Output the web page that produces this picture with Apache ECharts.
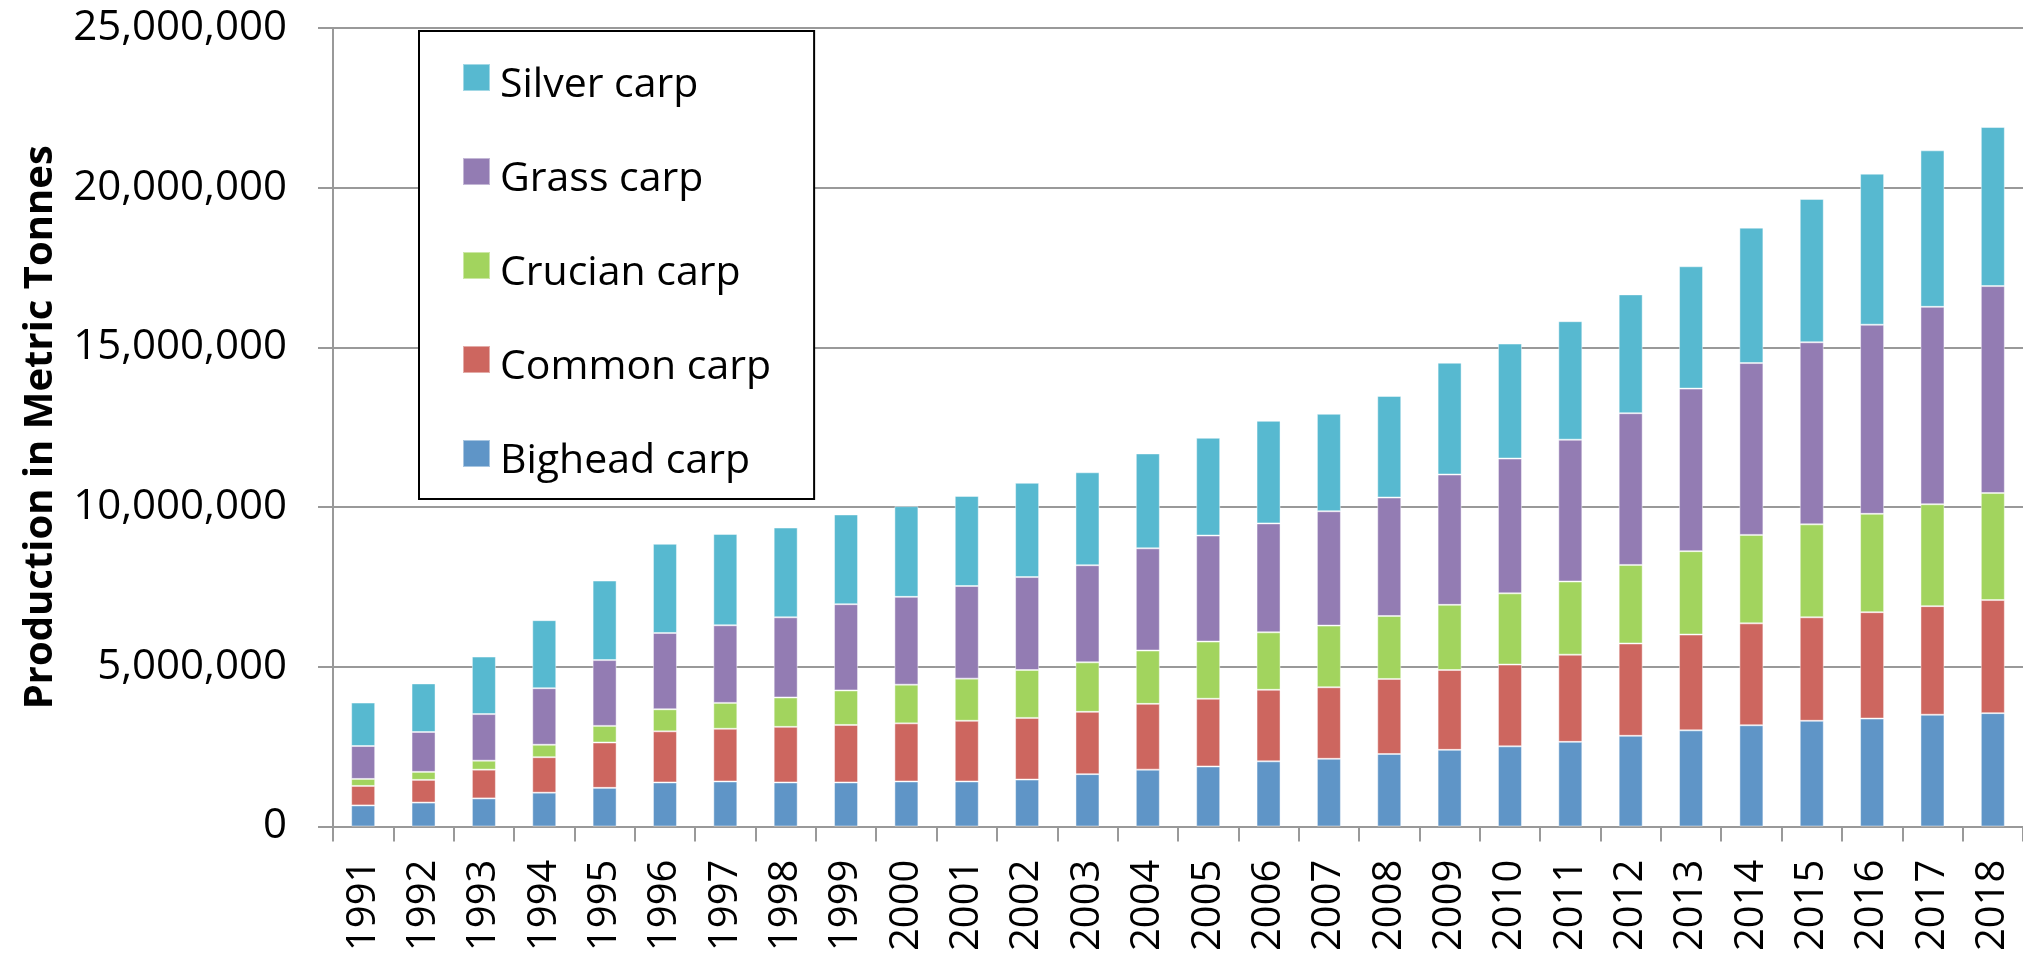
<!doctype html>
<html lang="en">
    <head>
        <meta charset="UTF-8">
        <title>Carp production</title>
        <style>
            html, body { margin: 0; padding: 0; background: #fff; }
        </style>
        <script src="https://cdn.jsdelivr.net/npm/echarts@6/dist/echarts.min.js"></script>
    </head>
    <body>
        <div id="main" style="width: 2023px;height:954px;"></div>
        <script type="text/javascript">
            // years on the x axis
            var years = ['1991','1992','1993','1994','1995','1996','1997','1998','1999','2000',
                         '2001','2002','2003','2004','2005','2006','2007','2008','2009','2010',
                         '2011','2012','2013','2014','2015','2016','2017','2018'];

            // production per species, metric tonnes
            var bighead = [660000, 750000, 880000, 1060000, 1210000, 1380000, 1410000, 1380000, 1380000, 1410000,
                           1410000, 1470000, 1640000, 1780000, 1880000, 2040000, 2120000, 2270000, 2400000, 2510000,
                           2650000, 2840000, 3010000, 3170000, 3310000, 3380000, 3500000, 3550000];
            var common  = [610000, 710000, 900000, 1110000, 1420000, 1600000, 1650000, 1740000, 1800000, 1820000,
                           1900000, 1930000, 1950000, 2060000, 2120000, 2240000, 2240000, 2350000, 2500000, 2560000,
                           2730000, 2890000, 3000000, 3190000, 3240000, 3330000, 3400000, 3540000];
            var crucian = [220000, 250000, 280000, 390000, 520000, 690000, 810000, 920000, 1080000, 1210000,
                           1320000, 1500000, 1550000, 1670000, 1790000, 1800000, 1930000, 1970000, 2040000, 2230000,
                           2290000, 2460000, 2610000, 2770000, 2910000, 3080000, 3190000, 3350000];
            var grass   = [1030000, 1250000, 1460000, 1770000, 2060000, 2390000, 2430000, 2510000, 2700000, 2750000,
                           2900000, 2910000, 3040000, 3200000, 3320000, 3410000, 3580000, 3710000, 4080000, 4220000,
                           4440000, 4750000, 5090000, 5380000, 5700000, 5920000, 6180000, 6480000];
            var silver  = [1360000, 1520000, 1800000, 2130000, 2490000, 2790000, 2860000, 2810000, 2810000, 2840000,
                           2820000, 2950000, 2910000, 2970000, 3060000, 3210000, 3050000, 3180000, 3500000, 3600000,
                           3710000, 3720000, 3830000, 4240000, 4490000, 4730000, 4900000, 4980000];

            var legendNames = ['Silver carp','Grass carp','Crucian carp','Common carp','Bighead carp'];

            var myChart = echarts.init(document.getElementById('main'));

            function bar(name, data, color) {
                return {
                    name: name,
                    type: 'bar',
                    stack: 'total',
                    barWidth: 24,
                    data: data,
                    itemStyle: {
                        color: color,
                        borderColor: 'rgba(255,255,255,0.45)',
                        borderWidth: 1
                    }
                };
            }

            var option = {
                animation: false,
                textStyle: { fontFamily: 'Open Sans' },
                legend: {
                    data: legendNames,
                    orient: 'vertical',
                    left: 419,
                    top: 31,
                    padding: [18, 43, 17, 43],
                    itemWidth: 27,
                    itemHeight: 27,
                    itemGap: 37,
                    icon: 'rect',
                    selectedMode: false,
                    backgroundColor: '#fff',
                    borderColor: '#000',
                    borderWidth: 2,
                    borderRadius: 0,
                    // text sits a little lower than the swatch, like the original
                    formatter: '{t|{name}}',
                    textStyle: {
                        rich: {
                            t: {
                                fontFamily: 'Open Sans',
                                fontSize: 41,
                                lineHeight: 41,
                                color: '#000',
                                padding: [16, 0, 0, 5]
                            }
                        }
                    }
                },
                grid: {
                    left: 333,
                    top: 28,
                    width: 1697,
                    height: 799
                },
                xAxis: {
                    type: 'category',
                    data: years,
                    axisLine: { lineStyle: { color: '#999', width: 2 } },
                    axisTick: { show: true, length: 15, lineStyle: { color: '#999', width: 2 } },
                    axisLabel: {
                        rotate: 90,
                        margin: 33,
                        fontSize: 40,
                        color: '#000',
                        fontFamily: 'Open Sans',
                        interval: 0
                    }
                },
                yAxis: {
                    type: 'value',
                    min: 0,
                    max: 25000000,
                    interval: 5000000,
                    name: 'Production in Metric Tonnes',
                    nameLocation: 'middle',
                    nameGap: 272,
                    nameTextStyle: {
                        fontFamily: 'Open Sans',
                        fontWeight: 'bold',
                        fontSize: 40,
                        color: '#000'
                    },
                    axisLine: { show: true, lineStyle: { color: '#999', width: 2 } },
                    axisTick: { show: true, length: 15, lineStyle: { color: '#999', width: 2 } },
                    splitLine: { lineStyle: { color: '#999', width: 2 } },
                    axisLabel: {
                        margin: 46,
                        fontSize: 42,
                        color: '#000',
                        fontFamily: 'Open Sans',
                        padding: [8, 0, 0, 0],
                        formatter: function (v) { return v.toLocaleString('en-US'); }
                    }
                },
                series: [
                    bar('Bighead carp', bighead, '#5f95c7'),
                    bar('Common carp', common, '#cd665f'),
                    bar('Crucian carp', crucian, '#a2d45e'),
                    bar('Grass carp', grass, '#937cb3'),
                    bar('Silver carp', silver, '#57b9d0')
                ]
            };

            myChart.setOption(option);
        </script>
    </body>
</html>
